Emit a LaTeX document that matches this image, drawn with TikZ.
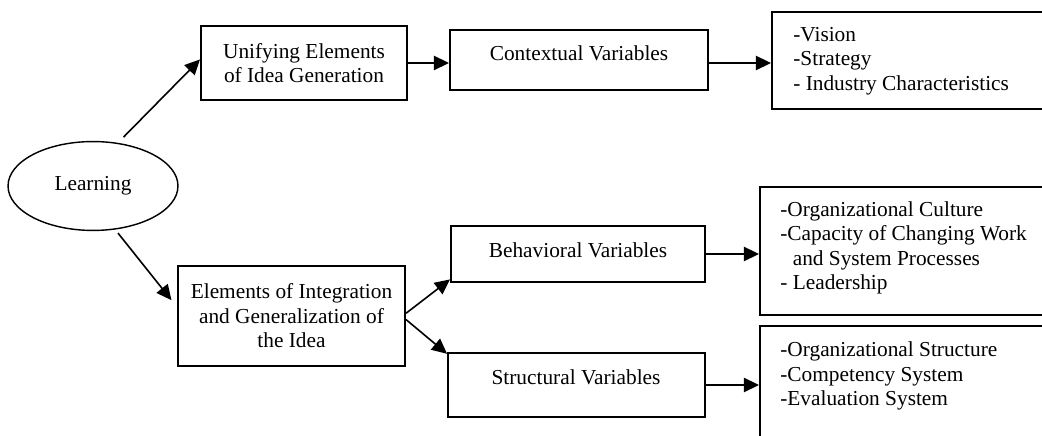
\documentclass[tikz,border=0pt]{standalone}
\usepackage{fontspec}
\setmainfont{Liberation Serif}
\usetikzlibrary{arrows.meta,shapes.geometric,fit}

\begin{document}
\begin{tikzpicture}[x=0.5625pt,y=-0.5625pt,
  font=\fontsize{12}{13.8}\selectfont,
  box/.style={draw, line width=1.1pt, inner sep=0pt},
  txt/.style={inner sep=0pt, align=center},
  lst/.style={inner sep=0pt, align=left, anchor=west},
  arr/.style={-{Triangle[length=8.5pt,width=8pt]}, line width=0.9pt}]
\useasboundingbox (0,0) rectangle (1042,436);
\clip (0,0) rectangle (1042,436);

% root
\node[draw, ellipse, line width=0.8pt, minimum width=95.6pt, minimum height=50pt, inner sep=0pt] (L) at (93,186) {Learning};

% upper branch
\node[box, fit={(201,26) (407,100)}] (u) {};
\node[txt] (ut) at (u.center) {Unifying Elements\\of Idea Generation};
\node[box, fit={(450,30) (708,90)}] (c) {};
\node[txt] (ct) at (579,53) {Contextual Variables};
\node[box, fit={(772,12) (1080,109)}] (v) {};
\node[lst] (vt) at (793,61) {-Vision\\-Strategy\\- Industry Characteristics};

% lower branch
\node[box, fit={(178,266) (405,366)}] (f) {};
\node[txt] (ft) at (f.center) {Elements of Integration\\and Generalization of\\the Idea};
\node[box, fit={(451,226) (705,282)}] (b) {};
\node[txt] (bt) at (578,250) {Behavioral Variables};
\node[box, fit={(448,353) (705,417)}] (s) {};
\node[txt] (st) at (576,377) {Structural Variables};
\node[box, fit={(760,187) (1080,315)}] (o) {};
\node[lst] (ot) at (780,248) {-Organizational Culture\\-Capacity of Changing Work\\\hspace*{7pt}and System Processes\\- Leadership};
\node[box, fit={(760,326) (1080,470)}] (p) {};
\node[lst] (pt) at (780,376) {-Organizational Structure\\-Competency System\\-Evaluation System};

% connectors
\draw[arr, shorten <=4.5pt] (L.60) -- ([yshift=2pt]u.west);
\draw[arr, shorten <=2.5pt, shorten >=5pt] (L.-63) -- ([yshift=5pt]f.west);
\draw[arr] (u.east) -- (u.east -| c.west);
\draw[arr] (c.east |- u.east) -- (v.west |- u.east);
\draw[arr] ([yshift=1.5pt]f.east) -- ([yshift=2pt]b.south west);
\draw[arr] ([yshift=-2pt]f.east) -- ([yshift=-1pt]s.north west);
\draw[arr] (b.east) -- (b.east -| o.west);
\draw[arr] (s.east) -- (s.east -| p.west);
\end{tikzpicture}
\end{document}
